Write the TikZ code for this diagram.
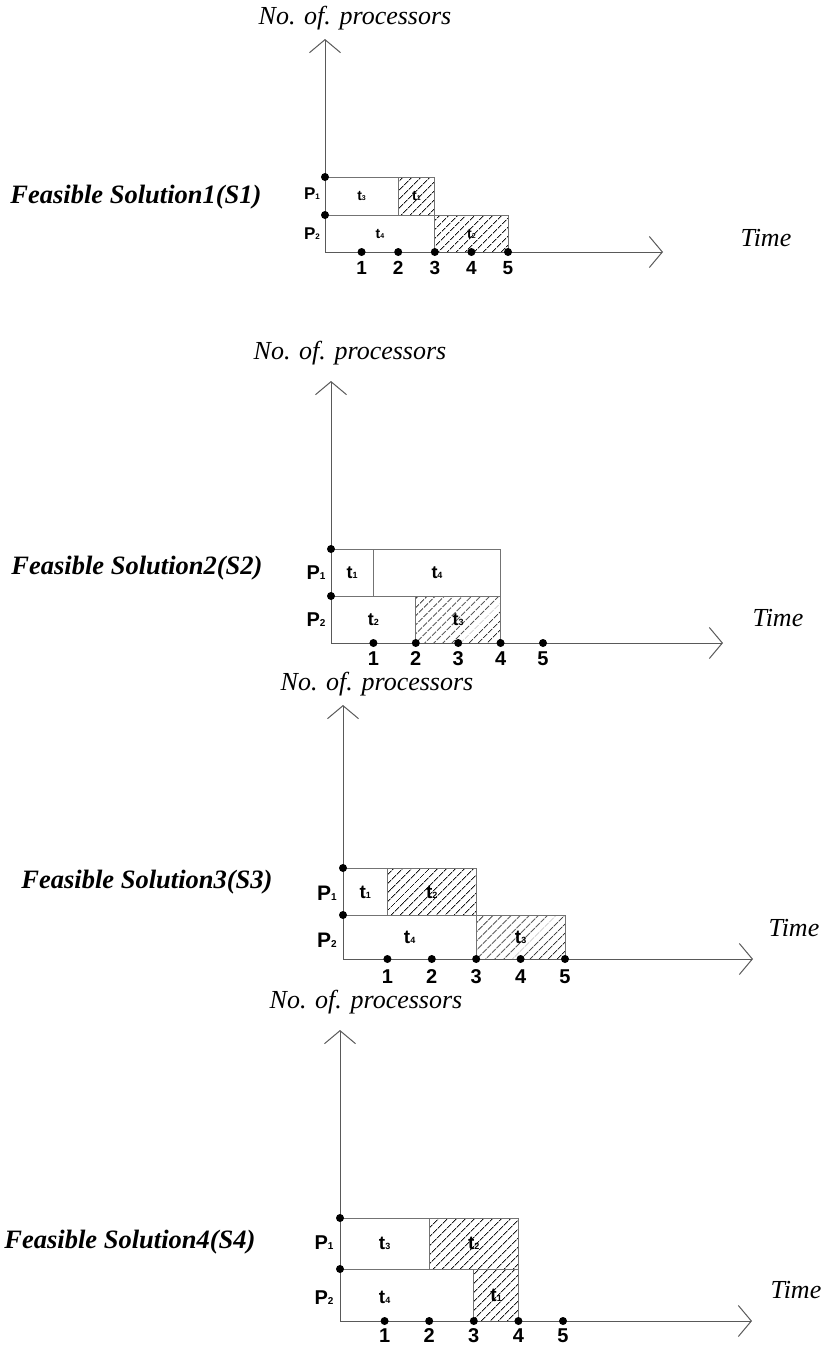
\documentclass[tikz,border=0pt]{standalone}
\usepackage{fontspec}
\setmainfont{Liberation Serif}
\setsansfont{Liberation Sans}
\usetikzlibrary{arrows.meta,patterns.meta}
\tikzset{
  axis/.style={draw=black!65, line width=1pt, -{Straight Barb[length=13pt,width=31pt,line width=1pt]}},
  box/.style={draw=black!55, line width=1pt},
  hatch/.style={box, pattern={Lines[angle=45,distance=6.5pt,line width=0.9pt]}, pattern color=black!90},
  dot/.style={circle, fill=black, inner sep=0pt, minimum size=8pt},
  axlab/.style={font=\fontsize{26}{26}\selectfont\itshape, inner sep=0pt},
  sol/.style={font=\fontsize{26.5}{26.5}\selectfont\bfseries\itshape, inner sep=0pt},
  lab/.style={inner sep=0pt},
}
\newcommand\plab[4]{{\fontsize{#1}{#1}\selectfont\sffamily\bfseries #3\fontsize{#2}{#2}\selectfont #4}}
\newcommand\nlab[2]{{\fontsize{#1}{#1}\selectfont\sffamily\bfseries #2}}
\begin{document}
\begin{tikzpicture}[x=1pt,y=-1pt]
\useasboundingbox (0,0) rectangle (823,1350);

%% ---------------- Panel 1 ----------------
\coordinate (O1) at (325,252);
\coordinate (X1) at (663,252);
\coordinate (Y1) at (325,39);
\node[axlab] (ya1) at (355,18) {No. of. processors};
\node[axlab] (ti1) at (766,238) {Time};
\node[sol] (fs1) at (136,197) {Feasible Solution1(S1)};
\begin{scope}[shift={(325,252)}, x=36.6pt]
  \draw[box] (0,-75) rectangle (2,-37);
  \draw[hatch] (2,-75) rectangle (3,-37);
  \draw[box] (0,-37) rectangle (3,0);
  \draw[hatch] (3,-37) rectangle (5,0);
  \node[lab] (a13) at (1,-56) {\plab{14}{7}{t}{3}};
  \node[lab] (a11) at (2.5,-56) {\plab{14}{7}{t}{1}};
  \node[lab] (a14) at (1.5,-18) {\plab{14}{7}{t}{4}};
  \node[lab] (a12) at (4,-18) {\plab{14}{7}{t}{2}};
  \node[lab, xshift=-13pt] (p11) at (0,-58) {\plab{17}{8}{P}{1}};
  \node[lab, xshift=-13pt] (p12) at (0,-18) {\plab{17}{8}{P}{2}};
  \foreach \i in {1,...,5}{
    \node[lab] (n1\i) at (\i,16) {\nlab{19}{\i}};
  }
\end{scope}
\draw[axis] (O1) -- (X1);
\draw[axis] (O1) -- (Y1);
\begin{scope}[shift={(325,252)}, x=36.6pt]
  \node[dot] (d1a) at (0,-75) {};
  \node[dot] (d1b) at (0,-37) {};
  \foreach \i in {1,...,5}{ \node[dot] (d1\i) at (\i,0) {}; }
\end{scope}

%% ---------------- Panel 2 ----------------
\coordinate (O2) at (331,643);
\coordinate (X2) at (723,643);
\coordinate (Y2) at (331,381);
\node[axlab] (ya2) at (350,353) {No. of. processors};
\node[axlab] (ti2) at (778,618) {Time};
\node[sol] (fs2) at (137,568) {Feasible Solution2(S2)};
\begin{scope}[shift={(331,643)}, x=42.4pt]
  \draw[box] (0,-94) rectangle (1,-47);
  \draw[box] (1,-94) rectangle (4,-47);
  \draw[box] (0,-47) rectangle (2,0);
  \draw[hatch] (2,-47) rectangle (4,0);
  \node[lab] (a21) at (0.5,-70) {\plab{18}{9}{t}{1}};
  \node[lab] (a24) at (2.5,-70) {\plab{18}{9}{t}{4}};
  \node[lab] (a22) at (1,-23) {\plab{18}{9}{t}{2}};
  \node[lab] (a23) at (3,-23) {\plab{18}{9}{t}{3}};
  \node[lab, xshift=-15pt] (p21) at (0,-70) {\plab{20}{10}{P}{1}};
  \node[lab, xshift=-15pt] (p22) at (0,-23) {\plab{20}{10}{P}{2}};
  \foreach \i in {1,...,5}{
    \node[lab] (n2\i) at (\i,16) {\nlab{20}{\i}};
  }
\end{scope}
\draw[axis] (O2) -- (X2);
\draw[axis] (O2) -- (Y2);
\begin{scope}[shift={(331,643)}, x=42.4pt]
  \node[dot] (d2a) at (0,-94) {};
  \node[dot] (d2b) at (0,-47) {};
  \foreach \i in {1,...,5}{ \node[dot] (d2\i) at (\i,0) {}; }
\end{scope}

%% ---------------- Panel 3 ----------------
\coordinate (O3) at (343,959);
\coordinate (X3) at (753,959);
\coordinate (Y3) at (343,705);
\node[axlab] (ya3) at (377,684) {No. of. processors};
\node[axlab] (ti3) at (794,928) {Time};
\node[sol] (fs3) at (147,882) {Feasible Solution3(S3)};
\begin{scope}[shift={(343,959)}, x=44.4pt]
  \draw[box] (0,-91) rectangle (1,-44);
  \draw[hatch] (1,-91) rectangle (3,-44);
  \draw[box] (0,-44) rectangle (3,0);
  \draw[hatch] (3,-44) rectangle (5,0);
  \node[lab] (a31) at (0.5,-67) {\plab{19}{9}{t}{1}};
  \node[lab] (a32) at (2,-67) {\plab{19}{9}{t}{2}};
  \node[lab] (a34) at (1.5,-22) {\plab{19}{9}{t}{4}};
  \node[lab] (a33) at (4,-22) {\plab{19}{9}{t}{3}};
  \node[lab, xshift=-16pt] (p31) at (0,-66) {\plab{21}{10}{P}{1}};
  \node[lab, xshift=-16pt] (p32) at (0,-19) {\plab{21}{10}{P}{2}};
  \foreach \i in {1,...,5}{
    \node[lab] (n3\i) at (\i,18) {\nlab{20}{\i}};
  }
\end{scope}
\draw[axis] (O3) -- (X3);
\draw[axis] (O3) -- (Y3);
\begin{scope}[shift={(343,959)}, x=44.4pt]
  \node[dot] (d3a) at (0,-91) {};
  \node[dot] (d3b) at (0,-44) {};
  \foreach \i in {1,...,5}{ \node[dot] (d3\i) at (\i,0) {}; }
\end{scope}

%% ---------------- Panel 4 ----------------
\coordinate (O4) at (340,1321);
\coordinate (X4) at (752,1321);
\coordinate (Y4) at (340,1030);
\node[axlab] (ya4) at (366,1002) {No. of. processors};
\node[axlab] (ti4) at (796,1290) {Time};
\node[sol] (fs4) at (130,1242) {Feasible Solution4(S4)};
\begin{scope}[shift={(340,1321)}, x=44.6pt]
  \draw[box] (0,-103) rectangle (2,-52);
  \draw[hatch] (2,-103) rectangle (4,-52);
  \draw[box] (0,-52) rectangle (3,0);
  \draw[hatch] (3,-52) rectangle (4,0);
  \node[lab] (a43) at (1,-78) {\plab{19}{9}{t}{3}};
  \node[lab] (a42) at (3,-78) {\plab{19}{9}{t}{2}};
  \node[lab] (a44) at (1,-24) {\plab{19}{9}{t}{4}};
  \node[lab] (a41) at (3.5,-26) {\plab{19}{9}{t}{1}};
  \node[lab, xshift=-16pt] (p41) at (0,-78) {\plab{20}{10}{P}{1}};
  \node[lab, xshift=-16pt] (p42) at (0,-23) {\plab{20}{10}{P}{2}};
  \foreach \i in {1,...,5}{
    \node[lab] (n4\i) at (\i,15) {\nlab{20}{\i}};
  }
\end{scope}
\draw[axis] (O4) -- (X4);
\draw[axis] (O4) -- (Y4);
\begin{scope}[shift={(340,1321)}, x=44.6pt]
  \node[dot] (d4a) at (0,-103) {};
  \node[dot] (d4b) at (0,-52) {};
  \foreach \i in {1,...,5}{ \node[dot] (d4\i) at (\i,0) {}; }
\end{scope}
\end{tikzpicture}
\end{document}
